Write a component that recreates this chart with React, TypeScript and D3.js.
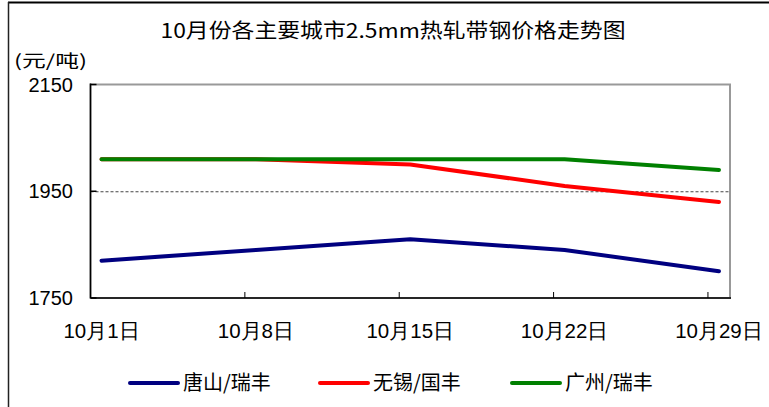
import React from "react";
import * as d3 from "d3";

const days = [1, 8, 15, 22, 29];
const dayLabels = ["10月1日", "10月8日", "10月15日", "10月22日", "10月29日"];
const tangshan = [1820, 1840, 1860, 1840, 1800];
const wuxi = [2010, 2010, 2000, 1960, 1930];
const guangzhou = [2010, 2010, 2010, 2010, 1990];
const yTicks = [1750, 1950, 2150];

const seriesNames = ["唐山/瑞丰", "无锡/国丰", "广州/瑞丰"];
const seriesColors = ["#000080", "#FF0000", "#008000"];

const W = 769;
const H = 407;
const left = 90.5;
const right = 730;
const top = 84.5;
const bottom = 298;

const App = () => {
    const xScale = d3.scaleLinear().domain([0.5, 29.5]).range([left, right]);
    const yScale = d3.scaleLinear().domain([1750, 2150]).range([bottom, top]);

    const line = d3
        .line<number>()
        .x((d, i) => xScale(days[i]))
        .y((d) => yScale(d));

    const allSeries = [tangshan, wuxi, guangzhou];
    const numFont = "'Liberation Sans', Arial, sans-serif";
    const cjkFont = "'Noto Sans CJK SC', sans-serif";

    // legend layout
    const legendX = [130, 320, 512];
    const legendY = 383;

    return (
        <svg
            width={W}
            height={H}
            style={{position: "absolute", left: 0, top: 0, background: "#fff"}}
        >
            {/* frame */}
            <line x1={8} y1={2.5} x2={W} y2={2.5} stroke="#000" strokeWidth={2} />
            <line x1={8.5} y1={2} x2={8.5} y2={H} stroke="#222" strokeWidth={1.5} />

            <text
                x={393}
                y={38}
                textAnchor="middle"
                fontFamily={cjkFont}
                fontSize={20}
                textLength={465}
                lengthAdjust="spacingAndGlyphs"
                fill="#000"
            >
                10月份各主要城市2.5mm热轧带钢价格走势图
            </text>
            <text
                x={14}
                y={67}
                fontFamily={cjkFont}
                fontSize={17}
                textLength={73}
                lengthAdjust="spacingAndGlyphs"
                fill="#000"
            >
                (元/吨)
            </text>

            {/* plot area */}
            <rect
                x={left}
                y={top}
                width={right - left}
                height={bottom - top}
                fill="#fff"
                stroke="#999"
                strokeWidth={2}
            />
            <line
                x1={left}
                x2={right}
                y1={yScale(1950) + 0.5}
                y2={yScale(1950) + 0.5}
                stroke="#444"
                strokeWidth={1}
                strokeDasharray="3,2"
            />
            <line x1={left} x2={left} y1={top - 1} y2={bottom} stroke="#000" strokeWidth={1.5} />
            <line x1={left} x2={right + 1} y1={bottom} y2={bottom} stroke="#000" strokeWidth={1.5} />

            {yTicks.map((t) => (
                <g key={t}>
                    <line
                        x1={left}
                        x2={left + 6}
                        y1={yScale(t)}
                        y2={yScale(t)}
                        stroke="#000"
                        strokeWidth={1.5}
                    />
                    <text
                        x={73}
                        y={yScale(t)}
                        dy="0.36em"
                        textAnchor="end"
                        fontFamily={numFont}
                        fontSize={20}
                        fill="#000"
                    >
                        {t}
                    </text>
                </g>
            ))}

            {days.slice(1).map((d) => (
                <line
                    key={d}
                    x1={xScale(d - 0.5)}
                    x2={xScale(d - 0.5)}
                    y1={bottom}
                    y2={bottom - 6}
                    stroke="#000"
                    strokeWidth={1}
                />
            ))}
            {days.map((d, i) => (
                <text
                    key={d}
                    x={xScale(d)}
                    y={338}
                    textAnchor="middle"
                    fontFamily={numFont}
                    fontSize={20.5}
                    fill="#000"
                >
                    {dayLabels[i]}
                </text>
            ))}

            {allSeries.map((s, i) => (
                <path
                    key={i}
                    d={line(s) || ""}
                    fill="none"
                    stroke={seriesColors[i]}
                    strokeWidth={4}
                    strokeLinecap="round"
                    strokeLinejoin="round"
                />
            ))}

            {seriesNames.map((name, i) => (
                <g key={name}>
                    <line
                        x1={legendX[i]}
                        x2={legendX[i] + 48}
                        y1={legendY}
                        y2={legendY}
                        stroke={seriesColors[i]}
                        strokeWidth={4}
                        strokeLinecap="round"
                    />
                    <text
                        x={legendX[i] + 53}
                        y={legendY}
                        dy="0.36em"
                        fontFamily={cjkFont}
                        fontSize={20}
                        fill="#000"
                    >
                        {name}
                    </text>
                </g>
            ))}
        </svg>
    );
};

export default App;
